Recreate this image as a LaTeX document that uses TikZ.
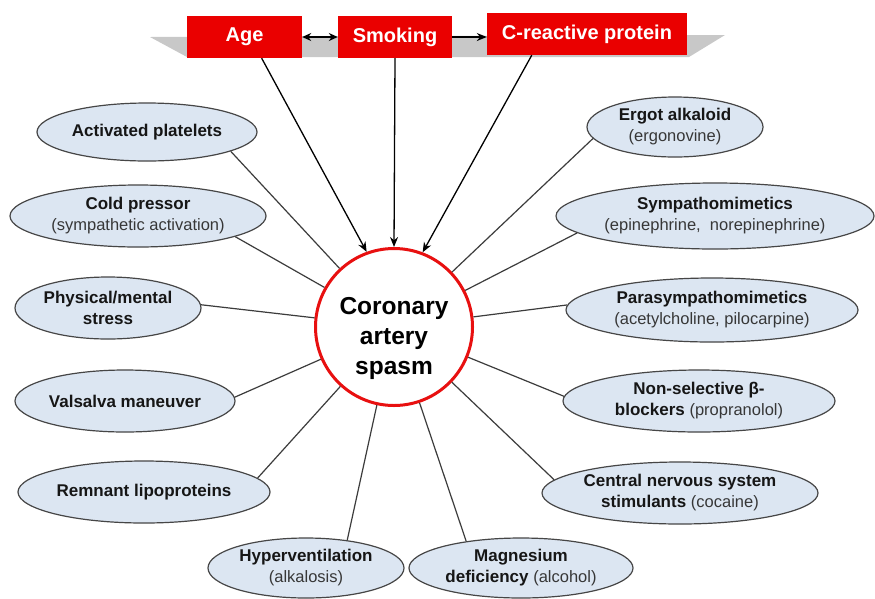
\documentclass[tikz,border=0pt]{standalone}
\usepackage{fontspec}
\setmainfont{Liberation Sans}
\usetikzlibrary{shapes.geometric,arrows.meta}
\definecolor{boxred}{RGB}{234,0,0}
\definecolor{circred}{RGB}{232,16,16}
\definecolor{ellfill}{RGB}{220,230,242}
\definecolor{ellline}{RGB}{70,70,70}
\definecolor{subtext}{RGB}{55,55,55}
\definecolor{maintext}{RGB}{22,22,22}
\definecolor{bandgray}{RGB}{200,200,200}
\definecolor{conncol}{RGB}{60,60,60}
\newcommand{\subt}[1]{{\mdseries\fontsize{16.5}{21}\selectfont\color{subtext}#1}}
\begin{document}
\begin{tikzpicture}[x=1pt,y=-1pt,
  factor/.style={ellipse, draw=ellline, line width=1.2pt, fill=ellfill, inner sep=0pt,
    align=center, text=maintext, font=\fontsize{17}{21}\selectfont\bfseries},
  redbox/.style={rectangle, fill=boxred, text=white, inner sep=0pt,
    font=\fontsize{20}{24}\selectfont\bfseries, minimum height=42pt},
  connector/.style={draw=conncol, line width=1.2pt},
  arr/.style={draw=black, line width=1.3pt, -{Stealth[length=10pt,width=8pt]}},
  darr/.style={draw=black, line width=1.3pt, {Stealth[length=9pt,width=8pt]}-{Stealth[length=9pt,width=8pt]}},
]
\useasboundingbox (0,0) rectangle (875,598);
\fill[white] (0,0) rectangle (875,598);

% grey band behind top boxes
\fill[bandgray] (150,37) -- (725,35) -- (689,57) -- (187,57) -- cycle;

% top boxes
\node[redbox, minimum width=115pt] (age) at (244.5,37) {Age};
\node[redbox, minimum width=114pt] (smk) at (395,37) {Smoking};
\node[redbox, minimum width=200pt] (crp) at (587,34) {C-reactive protein};

% central circle
\node[circle, draw=circred, line width=3pt, fill=white, minimum size=157pt, inner sep=0pt] (c) at (394,327) {};
\node[align=center, font=\fontsize{24.5}{30}\selectfont\bfseries, text=black] (ctext) at ([yshift=-11pt]c.center) {Coronary\\artery\\spasm};

% factors
\node[factor, minimum width=220pt, minimum height=58pt] (ap) at (147,132) {Activated platelets};
\node[factor, minimum width=256pt, minimum height=62pt] (cp) at (138,216) {Cold pressor\\\subt{(sympathetic activation)}};
\node[factor, minimum width=186pt, minimum height=62pt] (pm) at (108,308) {Physical/mental\\stress};
\node[factor, minimum width=220pt, minimum height=62pt] (vm) at (125,401) {Valsalva maneuver};
\node[factor, minimum width=252pt, minimum height=62pt] (rl) at (144,492) {Remnant lipoproteins};
\node[factor, minimum width=196pt, minimum height=60pt] (hv) at (306,568) {Hyperventilation\\\subt{(alkalosis)}};
\node[factor, minimum width=224pt, minimum height=60pt] (mg) at (521,568) {Magnesium\\deficiency \subt{(alcohol)}};
\node[factor, minimum width=276pt, minimum height=62pt] (cns) at (680,493) {Central nervous system\\stimulants \subt{(cocaine)}};
\node[factor, minimum width=272pt, minimum height=62pt] (nsb) at (699,401) {Non-selective β-\\blockers \subt{(propranolol)}};
\node[factor, minimum width=176pt, minimum height=60pt] (ea) at (675,127) {Ergot alkaloid\\\subt{(ergonovine)}};
\node[factor, minimum width=318pt, minimum height=66pt] (sy) at (715,216) {Sympathomimetics\\\subt{(epinephrine,\ \ norepinephrine)}};
\node[factor, minimum width=292pt, minimum height=64pt] (ps) at (712,310) {Parasympathomimetics\\\subt{(acetylcholine, pilocarpine)}};

% connectors
\draw[connector] (ap.-13) -- (c);
\draw[connector] (cp.-12) -- (c);
\draw[connector] (pm.2) -- (c);
\draw[connector] (vm.2) -- (c);
\draw[connector] (rl.7) -- (c);
\draw[connector] (hv.34) -- (c);
\draw[connector] (mg.154) -- (c);
\draw[connector] (cns.174) -- (c);
\draw[connector] (nsb.178) -- (c);
\draw[connector] (ps.178) -- (c);
\draw[connector] (sy.-173) -- (c);
\draw[connector] (ea.-172) -- (c);

% arrows
\draw[darr] (age.east) -- (smk.west);
\draw[arr] (smk.east) -- (smk.east -| crp.west);
\draw[arr] (age.-51) -- (c.110);
\draw[arr] (smk.south) -- (c.north);
\draw[arr] (crp.-159) -- (c.69);
\end{tikzpicture}
\end{document}
